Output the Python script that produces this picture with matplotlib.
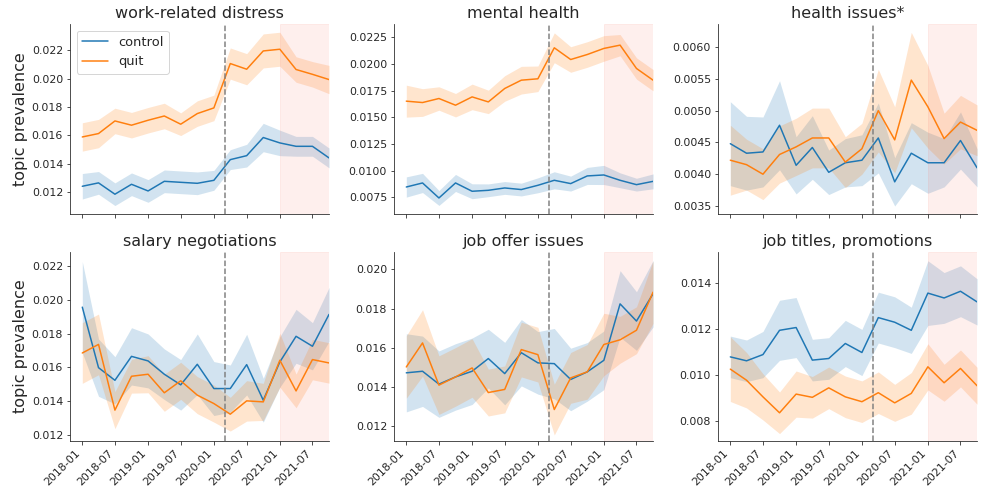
import datetime as dt

import numpy as np
import pandas as pd
import matplotlib
matplotlib.use("Agg")
import matplotlib.pyplot as plt
import matplotlib.dates as mdates
import seaborn as sns

sns.set_style("ticks")
plt.rcParams["font.family"] = ["DejaVu Sans"]

# quarterly time points, 2018-01 .. 2021-10
dates = pd.date_range("2018-01-01", periods=16, freq="QS")

topics = ["work-related distress", "mental health", "health issues*",
          "salary negotiations", "job offer issues", "job titles, promotions"]

# mean topic prevalence per quarter (control / quit) and half width of the CI band
distress_control = [0.0124, 0.01264, 0.01184, 0.01254, 0.01207, 0.01275, 0.01268, 0.01261,
                    0.01282, 0.01428, 0.01456, 0.01584, 0.01546, 0.01522, 0.01522, 0.0144]
distress_control_ci = [0.0009, 0.0008, 0.0008, 0.0008, 0.0008, 0.0008, 0.0008, 0.0008,
                       0.0007, 0.0007, 0.0008, 0.001, 0.0009, 0.0007, 0.0007, 0.0007]
distress_quit = [0.01588, 0.01612, 0.01701, 0.01671, 0.01706, 0.01736, 0.01678, 0.01753,
                 0.01793, 0.02106, 0.02066, 0.02195, 0.02207, 0.02064, 0.0203, 0.01993]
distress_quit_ci = [0.001, 0.001, 0.0009, 0.0009, 0.0009, 0.0009, 0.0008, 0.0009,
                    0.0009, 0.0011, 0.0011, 0.0012, 0.0012, 0.0009, 0.0009, 0.001]

mental_control = [0.00846, 0.00884, 0.00743, 0.00884, 0.00806, 0.00815, 0.00837, 0.00822,
                  0.00862, 0.00909, 0.00878, 0.0095, 0.00959, 0.00909, 0.00868, 0.00899]
mental_control_ci = [0.00095, 0.0009, 0.0007, 0.0008, 0.0007, 0.0006, 0.0006, 0.0006,
                     0.0007, 0.0008, 0.0007, 0.0008, 0.0009, 0.0007, 0.0006, 0.0007]
mental_quit = [0.01652, 0.01639, 0.01677, 0.01614, 0.01692, 0.01645, 0.01771, 0.01849,
               0.01862, 0.02153, 0.02043, 0.0209, 0.02147, 0.02178, 0.01959, 0.01849]
mental_quit_ci = [0.0015, 0.0013, 0.0011, 0.0011, 0.0012, 0.0011, 0.0012, 0.0013,
                  0.0012, 0.0014, 0.0012, 0.0012, 0.0012, 0.001, 0.001, 0.001]

health_control = [0.00448, 0.00433, 0.00435, 0.00477, 0.00414, 0.00442, 0.00403, 0.00418,
                  0.00422, 0.00457, 0.00388, 0.00433, 0.00418, 0.00418, 0.00453, 0.0041]
health_control_ci = [0.00066, 0.00058, 0.00055, 0.0007, 0.00045, 0.0005, 0.00035, 0.00038,
                     0.0004, 0.00055, 0.00038, 0.00048, 0.00048, 0.00038, 0.00045, 0.0003]
health_quit = [0.00422, 0.00415, 0.004, 0.00431, 0.00443, 0.00457, 0.00457, 0.00419,
               0.0044, 0.005, 0.00454, 0.00548, 0.00506, 0.00456, 0.00482, 0.00469]
health_quit_ci = [0.00055, 0.0004, 0.0004, 0.00045, 0.00045, 0.00047, 0.00047, 0.0004,
                  0.0004, 0.00065, 0.00052, 0.00075, 0.00065, 0.0004, 0.00042, 0.0004]

salary_control = [0.01957, 0.01598, 0.01523, 0.01665, 0.01638, 0.01559, 0.01496, 0.01618,
                  0.01474, 0.01474, 0.01616, 0.01405, 0.01632, 0.01784, 0.01725, 0.01914]
salary_control_ci = [0.0027, 0.0017, 0.0014, 0.0017, 0.0016, 0.0015, 0.0015, 0.0018,
                     0.0016, 0.0014, 0.0018, 0.0013, 0.0015, 0.0016, 0.0014, 0.0016]
salary_quit = [0.01685, 0.01736, 0.01346, 0.01547, 0.01559, 0.01449, 0.0152, 0.01435,
               0.01385, 0.01322, 0.01401, 0.01395, 0.01642, 0.0146, 0.01646, 0.01626]
salary_quit_ci = [0.0018, 0.0018, 0.0011, 0.001, 0.0011, 0.0011, 0.0011, 0.0011,
                  0.0011, 0.001, 0.0012, 0.0011, 0.0016, 0.001, 0.0012, 0.0012]

offer_control = [0.01471, 0.01479, 0.01413, 0.0145, 0.01479, 0.01544, 0.01467, 0.01574,
                 0.01522, 0.01518, 0.01437, 0.01476, 0.01535, 0.01824, 0.01736, 0.01876]
offer_control_ci = [0.002, 0.0018, 0.0017, 0.0017, 0.0017, 0.0015, 0.0016, 0.0017,
                    0.0016, 0.0018, 0.0016, 0.0015, 0.0015, 0.0017, 0.0015, 0.0017]
offer_quit = [0.01501, 0.01624, 0.01408, 0.0145, 0.01496, 0.0137, 0.01386, 0.0159,
              0.01564, 0.01283, 0.01445, 0.01476, 0.01616, 0.01640, 0.01689, 0.01884]
offer_quit_ci = [0.0016, 0.0017, 0.0015, 0.0015, 0.0015, 0.0012, 0.0012, 0.0014,
                 0.0014, 0.0013, 0.0013, 0.0014, 0.0016, 0.0012, 0.0012, 0.0016]

titles_control = [0.01079, 0.01062, 0.01089, 0.01194, 0.01206, 0.01065, 0.01072, 0.01137,
                  0.01098, 0.01249, 0.01229, 0.01194, 0.01355, 0.01334, 0.01363, 0.01317]
titles_control_ci = [0.0009, 0.0009, 0.001, 0.0013, 0.0013, 0.0009, 0.0009, 0.001,
                     0.001, 0.0011, 0.0011, 0.001, 0.0014, 0.0011, 0.0011, 0.001]
titles_quit = [0.01026, 0.00978, 0.00906, 0.00837, 0.00918, 0.00904, 0.00945, 0.00906,
               0.00885, 0.00924, 0.0088, 0.00921, 0.01036, 0.00967, 0.01029, 0.00954]
titles_quit_ci = [0.0014, 0.0012, 0.001, 0.0009, 0.001, 0.0009, 0.0009, 0.0009,
                  0.0009, 0.0009, 0.0008, 0.0009, 0.001, 0.0008, 0.0008, 0.0008]

controls = [distress_control, mental_control, health_control,
            salary_control, offer_control, titles_control]
control_cis = [distress_control_ci, mental_control_ci, health_control_ci,
               salary_control_ci, offer_control_ci, titles_control_ci]
quits = [distress_quit, mental_quit, health_quit, salary_quit, offer_quit, titles_quit]
quit_cis = [distress_quit_ci, mental_quit_ci, health_quit_ci,
            salary_quit_ci, offer_quit_ci, titles_quit_ci]

ylims = [(0.01047, 0.02384), (0.00596, 0.02375), (0.00338, 0.00636),
         (0.01163, 0.02287), (0.01122, 0.02092), (0.00715, 0.01535)]
yticks = [np.arange(0.012, 0.0231, 0.002), np.arange(0.0075, 0.0226, 0.0025),
          np.arange(0.0035, 0.00601, 0.0005), np.arange(0.012, 0.0221, 0.002),
          np.arange(0.012, 0.0201, 0.002), np.arange(0.008, 0.0141, 0.002)]
ytick_fmt = ["%.3f", "%.4f", "%.4f", "%.3f", "%.3f", "%.3f"]

covid_date = dt.datetime(2020, 3, 1)
shade_start = dt.datetime(2021, 1, 1)
shade_end = dt.datetime(2021, 10, 1)
x_left = dt.datetime(2018, 1, 1) - dt.timedelta(days=68)

fig, axes = plt.subplots(2, 3, figsize=(981 / 72, 493 / 72), dpi=72, sharex=True)
fig.subplots_adjust(left=0.0714, right=0.996, top=0.951, bottom=0.1055,
                    wspace=0.251, hspace=0.2)

for i, ax in enumerate(axes.flat):
    for vals, ci, color, label in [(controls[i], control_cis[i], "tab:blue", "control"),
                                   (quits[i], quit_cis[i], "tab:orange", "quit")]:
        vals = np.array(vals)
        ci = np.array(ci)
        ax.fill_between(dates, vals - ci, vals + ci, color=color, alpha=0.2, linewidth=0)
        ax.plot(dates, vals, color=color, linewidth=1.5, label=label)

    ax.axvline(covid_date, color="gray", linestyle="--", linewidth=1.5)
    ax.axvspan(shade_start, shade_end, color="salmon", alpha=0.12)

    ax.set_title(topics[i], fontsize=16)
    ax.set_ylim(*ylims[i])
    ax.set_yticks(yticks[i])
    ax.yaxis.set_major_formatter(plt.FormatStrFormatter(ytick_fmt[i]))
    ax.tick_params(labelsize=11)
    ax.set_xlim(x_left, shade_end)
    if i % 3 == 0:
        ax.set_ylabel("topic prevalence", fontsize=16)
    sns.despine(ax=ax)

axes[0, 0].xaxis.set_major_locator(mdates.MonthLocator(bymonth=[1, 7]))
axes[0, 0].xaxis.set_major_formatter(mdates.DateFormatter("%Y-%m"))
for ax in axes[1]:
    for lab in ax.get_xticklabels():
        lab.set_rotation(45)
        lab.set_ha("right")

axes[0, 0].legend(loc="upper left", fontsize=13)

fig.savefig("out.png", dpi=72)
